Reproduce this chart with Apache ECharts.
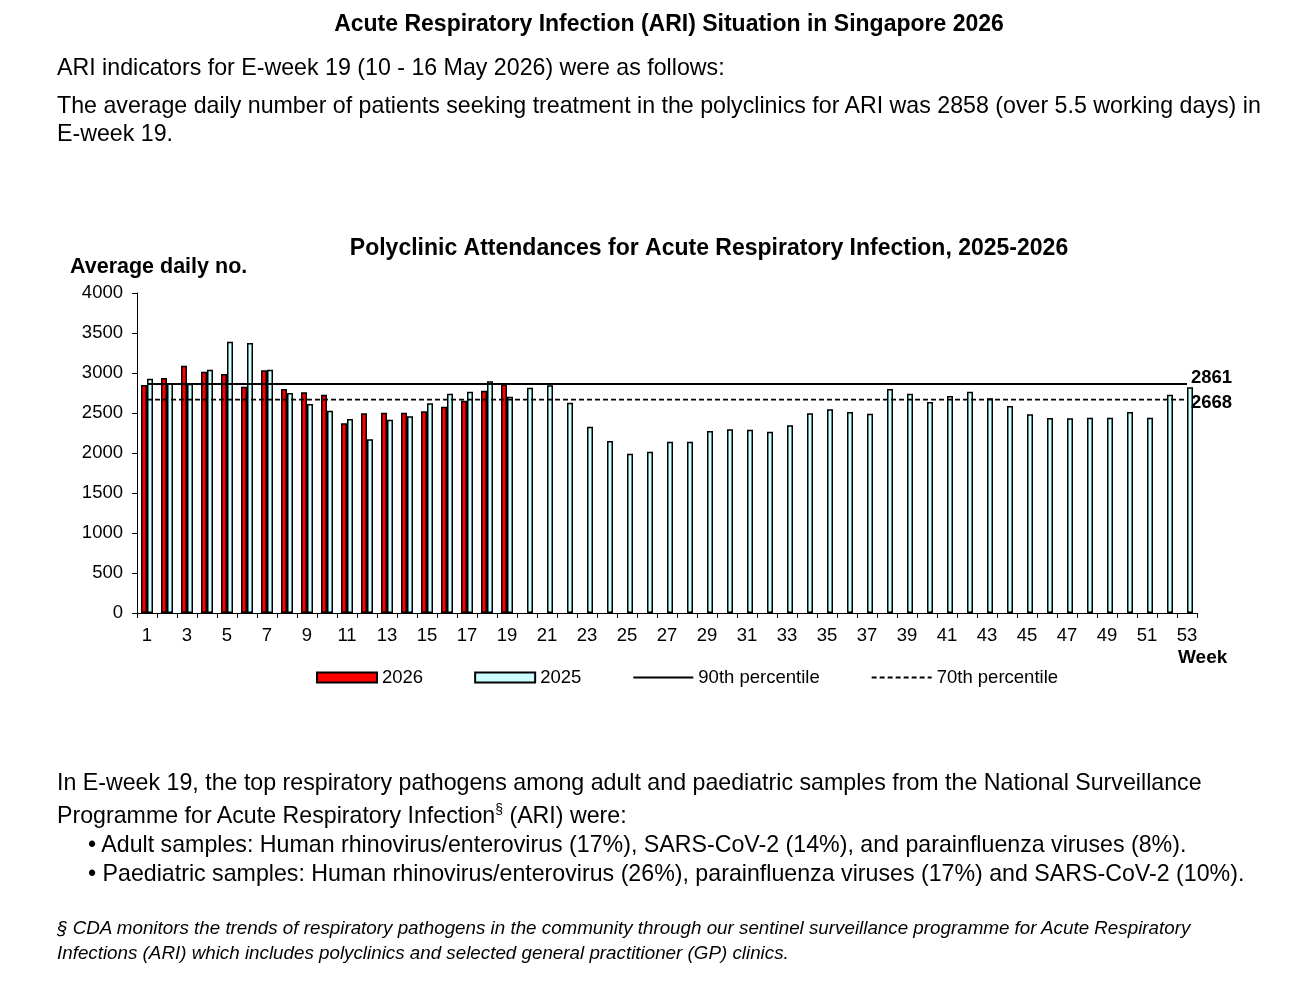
<!DOCTYPE html>
<html><head><meta charset="utf-8">
<script src="https://cdn.jsdelivr.net/npm/echarts@6/dist/echarts.min.js"></script>
<style>
html,body{margin:0;padding:0;background:#fff;}
body{width:1306px;height:989px;position:relative;overflow:hidden;font-family:"Liberation Sans",Arial,sans-serif;color:#000;}
#chart{position:absolute;left:0;top:0;width:1306px;height:989px;}
.t{position:absolute;white-space:nowrap;}
sup{font-size:14px;line-height:0;vertical-align:0;position:relative;top:-9px;}
</style></head>
<body>
<div id="chart"></div>
<div class="t" style="left:0;width:1338px;text-align:center;top:9px;font-size:23px;line-height:28px;font-weight:bold;">Acute Respiratory Infection (ARI) Situation in Singapore 2026</div>
<div class="t" style="left:57px;top:53px;font-size:23.2px;line-height:28px;">ARI indicators for E-week 19 (10 - 16 May 2026) were as follows:</div>
<div class="t" style="left:57px;top:91px;font-size:23.2px;line-height:28px;">The average daily number of patients seeking treatment in the polyclinics for ARI was 2858 (over 5.5 working days) in<br>E-week 19.</div>
<div class="t" style="left:57px;top:766px;font-size:23.2px;line-height:33px;">In E-week 19, the top respiratory pathogens among adult and paediatric samples from the National Surveillance<br>Programme for Acute Respiratory Infection<sup>§</sup> (ARI) were:</div>
<div class="t" style="left:88px;top:830px;font-size:23.2px;line-height:29px;">• Adult samples: Human rhinovirus/enterovirus (17%), SARS-CoV-2 (14%), and parainfluenza viruses (8%).<br>• Paediatric samples: Human rhinovirus/enterovirus (26%), parainfluenza viruses (17%) and SARS-CoV-2 (10%).</div>
<div class="t" style="left:57px;top:915px;font-size:18.8px;line-height:25px;font-style:italic;">§ CDA monitors the trends of respiratory pathogens in the community through our sentinel surveillance programme for Acute Respiratory<br>Infections (ARI) which includes polyclinics and selected general practitioner (GP) clinics.</div>
<script>
const weeks = ['1','2','3','4','5','6','7','8','9','10','11','12','13','14','15','16','17','18','19','20','21','22','23','24','25','26','27','28','29','30','31','32','33','34','35','36','37','38','39','40','41','42','43','44','45','46','47','48','49','50','51','52','53'];
const values2026 = [2850,2937,3092,3017,2987,2829,3033,2800,2758,2729,2371,2496,2504,2504,2521,2579,2654,2779,2858];
const values2025 = [2929,2875,2867,3042,3392,3375,3042,2750,2612,2529,2425,2171,2417,2458,2621,2741,2767,2896,2704,2817,2846,2629,2329,2150,1992,2017,2142,2142,2275,2296,2292,2267,2346,2496,2546,2513,2492,2800,2742,2637,2712,2767,2683,2587,2483,2437,2433,2442,2442,2512,2442,2729,2821];
const pct90 = 2861;
const pct70 = 2668;
const yTicks = [0,500,1000,1500,2000,2500,3000,3500,4000];

const FONT = '"Liberation Sans", Arial, sans-serif';
const chart = echarts.init(document.getElementById('chart'));
const full2026 = weeks.map((w,i)=> i < values2026.length ? values2026[i] : null);
const noSym = {color:'rgba(0,0,0,0)',borderColor:'rgba(0,0,0,0)',borderWidth:0};
chart.setOption({
  animation:false,
  textStyle:{fontFamily:FONT,color:'#000'},
  graphic:[
    {type:'text',x:709,y:249,style:{text:'Polyclinic Attendances for Acute Respiratory Infection, 2025-2026',font:'bold 23px '+FONT,fill:'#000',align:'center',verticalAlign:'middle'}},
    {type:'text',x:70,y:267,style:{text:'Average daily no.',font:'bold 21.5px '+FONT,fill:'#000',verticalAlign:'middle'}},
    {type:'text',x:1178,y:658,style:{text:'Week',font:'bold 19px '+FONT,fill:'#000',verticalAlign:'middle'}}
  ],
  legend:{left:311,top:663,itemWidth:60,itemHeight:10,itemGap:51,
    textStyle:{fontFamily:FONT,fontSize:18.5,color:'#000'},
    data:[
      {name:'2026',icon:'rect'},
      {name:'2025',icon:'rect'},
      {name:'90th percentile',itemStyle:noSym},
      {name:'70th percentile',itemStyle:noSym}
    ]},
  grid:{left:137,top:293,width:1060,height:320,containLabel:false},
  xAxis:{type:'category',data:weeks,boundaryGap:true,
    axisLine:{lineStyle:{color:'#000',width:1}},
    axisTick:{show:true,interval:0,length:5,lineStyle:{color:'#000'}},
    axisLabel:{interval:1,margin:13,fontSize:18.5,color:'#000',fontFamily:FONT},
    splitLine:{show:false}},
  yAxis:{type:'value',min:yTicks[0],max:yTicks[yTicks.length-1],interval:500,
    axisLine:{show:true,lineStyle:{color:'#000',width:1}},
    axisTick:{show:true,length:5,lineStyle:{color:'#000'}},
    axisLabel:{margin:14,fontSize:18.5,color:'#000',fontFamily:FONT,formatter:v=>String(v)},
    splitLine:{show:false}},
  series:[
    {name:'2026',type:'bar',data:full2026,barGap:'0%',barCategoryGap:'40%',
      itemStyle:{color:'#FF0000',borderColor:'#000',borderWidth:1.5}},
    {name:'2025',type:'bar',data:values2025,barGap:'0%',barCategoryGap:'40%',
      itemStyle:{color:'#CCFFFF',borderColor:'#000',borderWidth:1.5}},
    {name:'90th percentile',type:'line',data:weeks.map(()=>pct90),symbol:'circle',showSymbol:false,z:5,
      lineStyle:{color:'#000',width:2,type:'solid'},itemStyle:noSym,
      endLabel:{show:true,formatter:String(pct90),distance:4,fontSize:18.5,fontWeight:'bold',color:'#000',fontFamily:FONT,offset:[0,-6]}},
    {name:'70th percentile',type:'line',data:weeks.map(()=>pct70),symbol:'circle',showSymbol:false,z:5,
      lineStyle:{color:'#000',width:1.8,type:[5,3]},itemStyle:noSym,
      endLabel:{show:true,formatter:String(pct70),distance:4,fontSize:18.5,fontWeight:'bold',color:'#000',fontFamily:FONT,offset:[0,3]}}
  ]
});
</script>
</body></html>
